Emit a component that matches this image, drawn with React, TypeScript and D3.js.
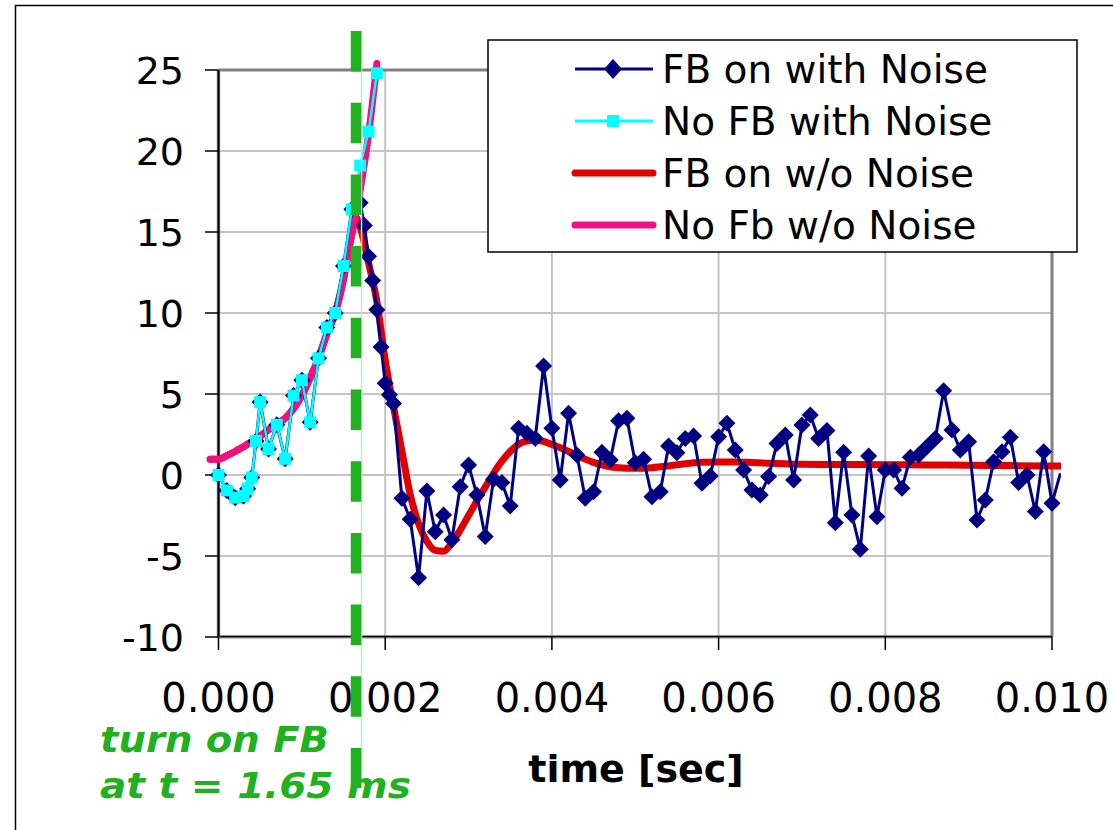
import React from 'react';
import * as d3 from 'd3';

// ---------- axis ticks ----------
const yTicks = [-10, -5, 0, 5, 10, 15, 20, 25];
const xTicks = [0, 0.002, 0.004, 0.006, 0.008, 0.01];
const xTickLabels = ['0.000', '0.002', '0.004', '0.006', '0.008', '0.010'];

// ---------- series names ----------
const seriesNames = ['FB on with Noise', 'No FB with Noise', 'FB on w/o Noise', 'No Fb w/o Noise'];

// ---------- noisy data before feedback (shared by both noisy series) ----------
const preFbTime = [0, 0.0001, 0.0002, 0.0003, 0.00035, 0.0004, 0.00045, 0.0005, 0.0006, 0.0007,
  0.0008, 0.0009, 0.001, 0.0011, 0.0012, 0.0013, 0.0014, 0.0015, 0.0016];
const preFbNoise = [0, -0.95, -1.4, -1.3, -0.85, -0.15, 2.1, 4.5, 1.6, 3.1,
  1.0, 4.9, 5.85, 3.25, 7.2, 9.1, 10.0, 12.9, 16.4];

// ---------- No FB with Noise (continuation) ----------
const noFbNoiseTailTime = [0.0017, 0.0018, 0.0019];
const noFbNoiseTail = [19.1, 21.2, 24.8];

// ---------- FB on with Noise (continuation) ----------
const fbOnNoiseTailTime = [0.0017, 0.00175, 0.0018, 0.00185, 0.0019, 0.00195, 0.002, 0.00205, 0.0021,
  0.0022, 0.0023, 0.0024, 0.0025, 0.0026, 0.0027, 0.0028, 0.0029, 0.003,
  0.0031, 0.0032, 0.0033, 0.0034, 0.0035, 0.0036, 0.0037, 0.0038, 0.0039, 0.004,
  0.0041, 0.0042, 0.0043, 0.0044, 0.0045, 0.0046, 0.0047, 0.0048, 0.0049, 0.005,
  0.0051, 0.0052, 0.0053, 0.0054, 0.0055, 0.0056, 0.0057, 0.0058, 0.0059, 0.006,
  0.0061, 0.0062, 0.0063, 0.0064, 0.0065, 0.0066, 0.0067, 0.0068, 0.0069, 0.007,
  0.0071, 0.0072, 0.0073, 0.0074, 0.0075, 0.0076, 0.0077, 0.0078, 0.0079, 0.008,
  0.0081, 0.0082, 0.0083, 0.0084, 0.0085, 0.0086, 0.0087, 0.0088, 0.0089, 0.009,
  0.0091, 0.0092, 0.0093, 0.0094, 0.0095, 0.0096, 0.0097, 0.0098, 0.0099, 0.01, 0.0101];
const fbOnNoiseTail = [16.8, 15.4, 13.5, 12.0, 10.2, 7.9, 5.66, 4.95, 4.42,
  -1.44, -2.73, -6.34, -0.99, -3.5, -2.47, -4.0, -0.72, 0.62,
  -1.23, -3.8, -0.27, -0.47, -1.91, 2.88, 2.57, 2.26, 6.73, 2.88,
  -0.31, 3.81, 1.23, -1.44, -1.03, 1.4, 0.93, 3.35, 3.5, 0.76,
  0.97, -1.34, -1.03, 1.79, 1.38, 2.26, 2.41, -0.51, -0.06, 2.36,
  3.19, 1.54, 0.31, -0.93, -1.23, -0.1, 1.95, 2.47, -0.31, 3.09,
  3.7, 2.26, 2.74, -2.94, 1.41, -2.47, -4.59, 1.17, -2.57, 0.31,
  0.31, -0.82, 1.09, 1.23, 1.75, 2.26, 5.2, 2.78, 1.54, 2.06,
  -2.78, -1.54, 0.82, 1.44, 2.33, -0.47, 0.0, -2.26, 1.44, -1.75, 0.1];

// ---------- noiseless data before feedback (shared) ----------
const cleanPreTime = [-0.0001, 0, 0.0001, 0.0002, 0.0003, 0.0004, 0.0005, 0.0006, 0.0007, 0.0008,
  0.0009, 0.001, 0.0011, 0.0012, 0.0013, 0.0014, 0.0015, 0.0016];
const cleanPre = [0.97, 0.97, 1.2, 1.45, 1.75, 2.05, 2.4, 2.8, 3.15, 3.5,
  4.1, 4.9, 6.0, 7.2, 8.7, 10.0, 12.1, 14.9];

// ---------- No Fb w/o Noise (continuation) ----------
const noFbCleanTailTime = [0.0017, 0.0018, 0.0019];
const noFbCleanTail = [17.6, 21.0, 25.4];

// ---------- FB on w/o Noise (continuation) ----------
const fbOnCleanTailTime = [0.00165, 0.0017, 0.0018, 0.0019, 0.002, 0.0021, 0.0022, 0.0023, 0.0024, 0.0025,
  0.0026, 0.0027, 0.0028, 0.0029, 0.003, 0.0031, 0.0032, 0.0033, 0.0034, 0.0035,
  0.0036, 0.0037, 0.0038, 0.0039, 0.004, 0.0041, 0.0042, 0.0043, 0.0044, 0.0045,
  0.0046, 0.0047, 0.0048, 0.0049, 0.005, 0.0052, 0.0054, 0.0056, 0.0058, 0.006,
  0.0062, 0.0064, 0.0066, 0.0068, 0.007, 0.0075, 0.008, 0.0085, 0.009, 0.0095, 0.01, 0.0101];
const fbOnCleanTail = [15.9, 15.3, 13.1, 10.7, 7.1, 4.2, 1.5, -1.2, -3.0, -4.1,
  -4.65, -4.7, -4.2, -3.4, -2.5, -1.6, -0.75, 0.1, 0.85, 1.45,
  1.9, 2.1, 2.15, 2.07, 1.88, 1.68, 1.45, 1.2, 0.98, 0.78,
  0.62, 0.5, 0.45, 0.42, 0.41, 0.45, 0.56, 0.7, 0.78, 0.8,
  0.8, 0.77, 0.73, 0.69, 0.66, 0.65, 0.64, 0.62, 0.6, 0.58, 0.56, 0.56];

const fbOnTime = 0.00165;

type Pt = { t: number; v: number };
const zip = (ts: number[], vs: number[]): Pt[] => ts.map((t, i) => ({ t, v: vs[i] }));

const fbOnNoiseData = zip(preFbTime.concat(fbOnNoiseTailTime), preFbNoise.concat(fbOnNoiseTail));
const noFbNoiseData = zip(preFbTime.concat(noFbNoiseTailTime), preFbNoise.concat(noFbNoiseTail));
const fbOnCleanData = zip(cleanPreTime.concat(fbOnCleanTailTime), cleanPre.concat(fbOnCleanTail));
const noFbCleanData = zip(cleanPreTime.concat(noFbCleanTailTime), cleanPre.concat(noFbCleanTail));

const NAVY = '#000080';
const CYAN = '#00ffff';
const RED = '#e00000';
const PINK = '#f0107f';
const GREEN = '#20b020';
const FONT = '"DejaVu Sans", Verdana, sans-serif';

export default function App() {
  const left = 218.5, right = 1052, top = 70, bottom = 637;
  const x = d3.scaleLinear().domain([0, 0.01]).range([left, right]);
  const y = d3.scaleLinear().domain([-10, 25]).range([bottom, top]);

  const smooth = d3.line<Pt>().x(d => x(d.t)).y(d => y(d.v)).curve(d3.curveMonotoneX);
  const straight = d3.line<Pt>().x(d => x(d.t)).y(d => y(d.v));

  const diamond = 'M0,-8.5L8.5,0L0,8.5L-8.5,0Z';
  const inDomain = (d: Pt) => d.t >= 0 && d.t <= 0.01;

  const legendRows = [
    { name: seriesNames[0], color: NAVY, width: 3, marker: 'diamond' },
    { name: seriesNames[1], color: CYAN, width: 3, marker: 'square' },
    { name: seriesNames[2], color: RED, width: 7, marker: '' },
    { name: seriesNames[3], color: PINK, width: 7, marker: '' },
  ];
  const legendBaselines = [82.5, 134.5, 186.5, 238.5];

  return (
    <svg width={1113} height={830} style={{ position: 'absolute', left: 0, top: 0, background: '#fff' }}
      fontFamily={FONT}>
      <defs>
        <clipPath id="seriesClip">
          <rect x={0} y={0} width={1061} height={830} />
        </clipPath>
      </defs>
      <rect x={0} y={0} width={1113} height={830} fill="#fff" />
      {/* outer chart frame */}
      <line x1={15} x2={1113} y1={5.5} y2={5.5} stroke="#000" strokeWidth={1.5} />
      <line x1={15.5} x2={15.5} y1={5} y2={830} stroke="#000" strokeWidth={1.5} />

      {/* grid */}
      {yTicks.filter(v => v > -10 && v < 25).map(v => (
        <line key={'gy' + v} x1={left} x2={right} y1={y(v)} y2={y(v)} stroke="#c4c4c4" strokeWidth={2} />
      ))}
      {xTicks.filter(t => t > 0 && t < 0.01).map(t => (
        <line key={'gx' + t} x1={x(t)} x2={x(t)} y1={top} y2={bottom} stroke="#c4c4c4" strokeWidth={2} />
      ))}
      {/* plot border */}
      <line x1={left} x2={right} y1={top} y2={top} stroke="#808080" strokeWidth={3} />
      <line x1={right} x2={right} y1={top} y2={bottom} stroke="#808080" strokeWidth={3} />
      <line x1={left} x2={right} y1={bottom} y2={bottom} stroke="#909090" strokeWidth={3} />
      <line x1={left} x2={right} y1={bottom - 0.5} y2={bottom - 0.5} stroke="#000" strokeWidth={1.5} />
      <line x1={left} x2={left} y1={top} y2={bottom} stroke="#909090" strokeWidth={3.5} />
      <line x1={left} x2={left} y1={top} y2={bottom} stroke="#000" strokeWidth={2} />

      {/* ticks */}
      {yTicks.map(v => (
        <g key={'ty' + v}>
          <line x1={205} x2={left} y1={y(v)} y2={y(v)} stroke="#000" strokeWidth={1.5} />
          <text x={184} y={y(v) + 14} textAnchor="end" fontSize={38} fill="#000">{String(v)}</text>
        </g>
      ))}
      {xTicks.map((t, i) => (
        <g key={'tx' + t}>
          <line x1={x(t)} x2={x(t)} y1={bottom} y2={650} stroke="#000" strokeWidth={1.5} />
          <text x={x(t)} y={712} textAnchor="middle" fontSize={40} fill="#000">{xTickLabels[i]}</text>
        </g>
      ))}

      {/* axis title */}
      <text x={636} y={782} textAnchor="middle" fontSize={38} fontWeight="bold" fill="#000">time [sec]</text>

      {/* series */}
      <g clipPath="url(#seriesClip)">
        <path d={smooth(fbOnCleanData) || ''} fill="none" stroke={RED} strokeWidth={7} strokeLinecap="round" strokeLinejoin="round" />
        <path d={smooth(noFbCleanData) || ''} fill="none" stroke={PINK} strokeWidth={7} strokeLinecap="round" strokeLinejoin="round" />

        <path d={straight(fbOnNoiseData) || ''} fill="none" stroke={NAVY} strokeWidth={3} strokeLinejoin="round" />
        {fbOnNoiseData.filter(inDomain).map((d, i) => (
          <path key={'nd' + i} d={diamond} transform={`translate(${x(d.t)},${y(d.v)})`} fill={NAVY} />
        ))}

        <path d={straight(noFbNoiseData) || ''} fill="none" stroke={CYAN} strokeWidth={2.5} strokeLinejoin="round" />
        {noFbNoiseData.filter(inDomain).map((d, i) => (
          <rect key={'cs' + i} x={x(d.t) - 6} y={y(d.v) - 6} width={12} height={12} fill={CYAN} />
        ))}
      </g>

      {/* legend */}
      <rect x={488} y={40} width={589} height={212} fill="#fff" stroke="#000" strokeWidth={1.5} />
      {legendRows.map((r, i) => {
        const ly = legendBaselines[i] - 13.5;
        return (
          <g key={'lg' + i}>
            <line x1={575} x2={653} y1={ly} y2={ly} stroke={r.color} strokeWidth={r.width}
              strokeLinecap={r.width > 4 ? 'round' : 'butt'} />
            {r.marker === 'diamond' && (
              <path d="M0,-10L9,0L0,10L-9,0Z" transform={`translate(613,${ly})`} fill={r.color} />
            )}
            {r.marker === 'square' && (
              <rect x={607} y={ly - 6} width={12} height={12} fill={r.color} />
            )}
            <text x={662} y={legendBaselines[i]} fontSize={39} fill="#000">{r.name}</text>
          </g>
        );
      })}

      {/* feedback turn-on marker */}
      <line x1={x(fbOnTime) + 5.5} x2={x(fbOnTime) + 5.5} y1={30} y2={788} stroke="#c4ecc4" strokeWidth={1.5} />
      <line x1={x(fbOnTime)} x2={x(fbOnTime)} y1={31} y2={788} stroke={GREEN} strokeWidth={10.5}
        strokeDasharray="40.5 31.2" />
      <text x={100} y={752} fontSize={36} fontWeight="bold" fontStyle="italic" fill={GREEN}
        textLength={229} lengthAdjust="spacingAndGlyphs">turn on FB</text>
      <text x={100} y={798} fontSize={36} fontWeight="bold" fontStyle="italic" fill={GREEN}
        textLength={311} lengthAdjust="spacingAndGlyphs">at t = 1.65 ms</text>
    </svg>
  );
}
